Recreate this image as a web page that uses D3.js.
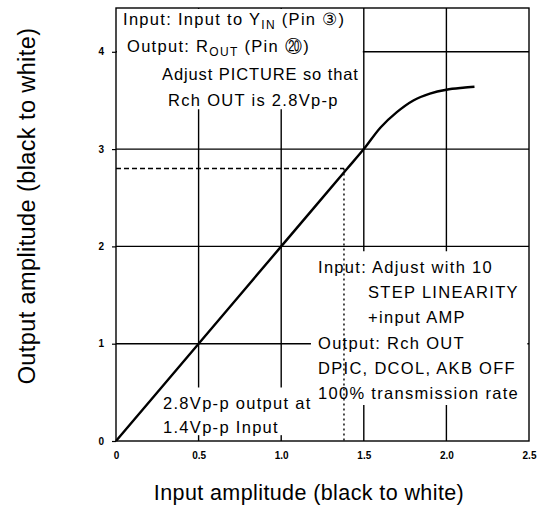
<!DOCTYPE html>
<html><head><meta charset="utf-8">
<script src="https://cdn.jsdelivr.net/npm/d3@7"></script>
<style>
body{margin:0;background:#fff;}
svg{display:block;}
text{font-family:"Liberation Sans",Arial,sans-serif;fill:#000;}
</style></head>
<body>
<svg id="c" width="540" height="508"></svg>
<script>
// ---- data ----
const xTicks = [0, 0.5, 1.0, 1.5, 2.0, 2.5];
const yTicks = [0, 1, 2, 3, 4];
const gridX = [0.5, 1.0, 1.5, 2.0];
const gridY = [1, 2, 3, 4];
const curveX = [0, 0.5, 1.0, 1.4, 1.5, 1.6, 1.7, 1.8, 1.9, 2.0, 2.1, 2.17];
const curveY = [0, 1.0, 2.0, 2.8, 3.0, 3.22, 3.38, 3.5, 3.57, 3.61, 3.63, 3.64];
const refPoint = {x: 1.38, y: 2.8};
const xTitle = "Input amplitude (black to white)";
const yTitle = "Output amplitude (black to white)";
const noteTopLines = ["Adjust PICTURE so that", "Rch OUT is 2.8Vp-p"];
const noteRightLines = ["Input: Adjust with 10", "STEP LINEARITY", "+input AMP", "Output: Rch OUT", "DPIC, DCOL, AKB OFF", "100% transmission rate"];
const noteBottomLines = ["2.8Vp-p output at", "1.4Vp-p Input"];

// ---- drawing ----
const svg = d3.select("#c");
const x = d3.scaleLinear().domain([0, 2.5]).range([116, 529]);
const y = d3.scaleLinear().domain([0, 4.45]).range([441, 8]);

const g = svg.append("g");

// grid lines
g.selectAll(".gx").data(gridX).join("line")
  .attr("x1", d => x(d)).attr("x2", d => x(d))
  .attr("y1", y(4.45)).attr("y2", y(0))
  .attr("stroke", "#000").attr("stroke-width", 1.4);
g.selectAll(".gy").data(gridY).join("line")
  .attr("x1", x(0)).attr("x2", x(2.5))
  .attr("y1", d => y(d)).attr("y2", d => y(d))
  .attr("stroke", "#000").attr("stroke-width", 1.4);

// white boxes behind annotations
const boxes = [
  [x(0) + 1, y(4.45) + 1, x(1.5) - x(0) - 2, y(3.42) - y(4.45)],
  [x(1.18), y(1.95), x(2.49) - x(1.18), y(0.37) - y(1.95)],
  [x(0.3), y(0.55), x(1.12) - x(0.3), y(0.06) - y(0.55)]
];
g.selectAll(".box").data(boxes).join("rect")
  .attr("x", d => d[0]).attr("y", d => d[1]).attr("width", d => d[2]).attr("height", d => d[3])
  .attr("fill", "#fff");

// frame
g.append("rect").attr("x", x(0)).attr("y", y(4.45))
  .attr("width", x(2.5) - x(0)).attr("height", y(0) - y(4.45))
  .attr("fill", "none").attr("stroke", "#000").attr("stroke-width", 1.4);

// dashed reference lines
g.append("line").attr("x1", x(0)).attr("x2", x(refPoint.x))
  .attr("y1", y(refPoint.y)).attr("y2", y(refPoint.y))
  .attr("stroke", "#000").attr("stroke-width", 1.4).attr("stroke-dasharray", "5,3");
g.append("line").attr("x1", x(refPoint.x)).attr("x2", x(refPoint.x))
  .attr("y1", y(refPoint.y)).attr("y2", y(0))
  .attr("stroke", "#000").attr("stroke-width", 1.4).attr("stroke-dasharray", "2,3");

// curve
const pts = curveX.map((d, i) => [d, curveY[i]]);
g.append("path").datum(pts)
  .attr("d", d3.line().x(d => x(d[0])).y(d => y(d[1])).curve(d3.curveMonotoneX))
  .attr("fill", "none").attr("stroke", "#000").attr("stroke-width", 2.4);

// axes
const xAxis = g.append("g").attr("transform", `translate(0,${y(0)})`)
  .call(d3.axisBottom(x).tickValues(xTicks).tickSize(0).tickPadding(11)
    .tickFormat(d => d === 0 ? "0" : d.toFixed(1)));
const yAxis = g.append("g").attr("transform", `translate(${x(0)},0)`)
  .call(d3.axisLeft(y).tickValues(yTicks).tickSize(4).tickPadding(8).tickFormat(d3.format("d")));
[xAxis, yAxis].forEach(a => {
  a.select(".domain").remove();
  a.selectAll("text").attr("font-size", 10).attr("font-weight", "bold")
    .attr("font-family", "Liberation Sans, Arial, sans-serif");
  a.selectAll("line").attr("stroke", "#000").attr("stroke-width", 1.2);
});

// axis titles
svg.append("text").attr("x", 309).attr("y", 500).attr("text-anchor", "middle")
  .attr("font-size", 21.5).attr("letter-spacing", 0.4).text(xTitle);
svg.append("text").attr("transform", "translate(35,206) rotate(-90)")
  .attr("text-anchor", "middle").attr("font-size", 23.5).attr("letter-spacing", 0.4).text(yTitle);

const fs = 16.5, ls = 1.3;
// top-left annotation
const t1 = svg.append("text").attr("x", 123).attr("y", 25).attr("font-size", fs).attr("letter-spacing", ls);
t1.append("tspan").text("Input: Input to Y");
t1.append("tspan").attr("font-size", 12).attr("dy", 4).text("IN");
t1.append("tspan").attr("dy", -4).text(" (Pin \u2462)");
const t2 = svg.append("text").attr("x", 127).attr("y", 52).attr("font-size", fs).attr("letter-spacing", ls);
t2.append("tspan").text("Output: R");
t2.append("tspan").attr("font-size", 12).attr("dy", 4).text("OUT");
t2.append("tspan").attr("dy", -4).text(" (Pin \u2473)");
svg.selectAll(".nt").data(noteTopLines).join("text")
  .attr("x", (d, i) => i === 0 ? 162 : 168).attr("y", (d, i) => 80 + i * 26)
  .attr("font-size", fs).attr("letter-spacing", (d, i) => i === 0 ? 0.9 : ls).text(d => d);

// right annotation
svg.selectAll(".nr").data(noteRightLines).join("text")
  .attr("x", (d, i) => (i === 1 || i === 2) ? 368 : 318)
  .attr("y", (d, i) => 273 + i * 25.2)
  .attr("font-size", fs).attr("letter-spacing", ls).text(d => d);

// bottom-left annotation
svg.selectAll(".nb").data(noteBottomLines).join("text")
  .attr("x", 163).attr("y", (d, i) => 409 + i * 24)
  .attr("font-size", fs).attr("letter-spacing", ls).text(d => d);
</script>
</body></html>
